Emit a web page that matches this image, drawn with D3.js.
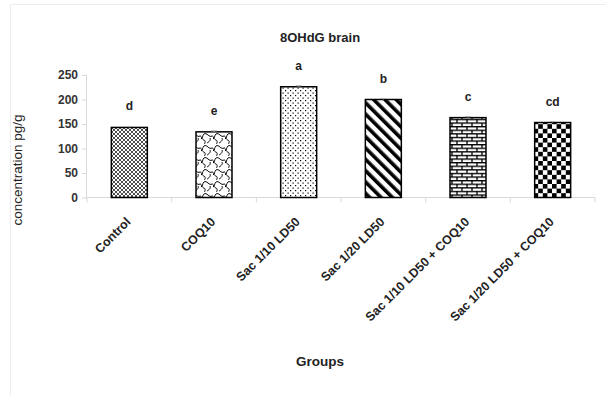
<!DOCTYPE html>
<html><head><meta charset="utf-8">
<script src="https://cdn.jsdelivr.net/npm/d3@7"></script>
<style>body{margin:0;background:#fff;}svg{display:block;}</style>
</head><body>
<svg id="c" width="606" height="395"></svg>
<script>
const categories = ["Control","COQ10","Sac 1/10 LD50","Sac 1/20 LD50","Sac 1/10 LD50 + COQ10","Sac 1/20 LD50 + COQ10"];
const values = [143, 134, 226, 200, 163, 153];
const errors = [2, 2, 2, 2, 2, 2];
const letters = ["d","e","a","b","c","cd"];
const yTicks = [0,50,100,150,200,250];
const patterns = ["lattice","shingle","dots","stripes","brick","checker"];

const svg = d3.select("#c");
const font = "'Liberation Sans', Arial, sans-serif";
const m = {l:87, r:595, t:75, b:197.5};

// border
svg.append("path").attr("d","M10.5,395 V4.5 H606").attr("fill","none").attr("stroke","#ececec").attr("stroke-width",1);

const defs = svg.append("defs");
// lattice
let p = defs.append("pattern").attr("id","lattice").attr("patternUnits","userSpaceOnUse").attr("width",4).attr("height",4);
p.append("rect").attr("width",4).attr("height",4).attr("fill","#fff");
p.append("path").attr("d","M0,0 L4,4 M4,0 L0,4").attr("stroke","#000").attr("stroke-width",0.7);
// shingle
p = defs.append("pattern").attr("id","shingle").attr("patternUnits","userSpaceOnUse").attr("width",12).attr("height",12);
p.append("rect").attr("width",12).attr("height",12).attr("fill","#fff");
p.append("path").attr("d","M0,2 C3,0 5,6 8,4 C9,3 10,8 12,8 M6,6 C7,8 5,10 3,11 M12,2 C10,4 11,6 9,7 M0,8 C2,9 1,12 0,12").attr("fill","none").attr("stroke","#000").attr("stroke-width",1);
// dots
p = defs.append("pattern").attr("id","dots").attr("patternUnits","userSpaceOnUse").attr("width",5).attr("height",5);
p.append("rect").attr("width",5).attr("height",5).attr("fill","#fff");
p.append("rect").attr("x",0).attr("y",0).attr("width",1.2).attr("height",1.2).attr("fill","#000");
p.append("rect").attr("x",2.5).attr("y",2.5).attr("width",1.2).attr("height",1.2).attr("fill","#000");
// stripes
p = defs.append("pattern").attr("id","stripes").attr("patternUnits","userSpaceOnUse").attr("width",8).attr("height",8).attr("patternTransform","rotate(-45)");
p.append("rect").attr("width",8).attr("height",8).attr("fill","#fff");
p.append("rect").attr("x",0).attr("y",0).attr("width",3.6).attr("height",8).attr("fill","#000");
// brick
p = defs.append("pattern").attr("id","brick").attr("patternUnits","userSpaceOnUse").attr("width",10).attr("height",7.2);
p.append("rect").attr("width",10).attr("height",7.2).attr("fill","#fff");
p.append("path").attr("d","M0,0.6 H10 M0,4.2 H10 M2,0.6 V4.2 M7,4.2 V7.8").attr("stroke","#000").attr("stroke-width",1.3);
// checker
p = defs.append("pattern").attr("id","checker").attr("patternUnits","userSpaceOnUse").attr("width",9.2).attr("height",9.2);
p.append("rect").attr("width",9.2).attr("height",9.2).attr("fill","#fff");
p.append("rect").attr("x",0).attr("y",0).attr("width",4.6).attr("height",4.6).attr("fill","#000");
p.append("rect").attr("x",4.6).attr("y",4.6).attr("width",4.6).attr("height",4.6).attr("fill","#000");

const x = d3.scaleBand().domain(categories).range([m.l, m.r]).paddingInner(0.575).paddingOuter(0.2875);
const y = d3.scaleLinear().domain([0,250]).range([m.b, m.t]);

// y axis
const ya = svg.append("g").attr("transform",`translate(${m.l},0)`)
  .call(d3.axisLeft(y).tickValues(yTicks).tickSize(5).tickPadding(4));
ya.selectAll("path,line").attr("stroke","#d9d9d9");
ya.select(".domain").attr("d",`M-0.5,${m.b}V${m.t}`);
ya.selectAll("text").attr("font-family",font).attr("font-size",12).attr("font-weight","bold").attr("fill","#333");

// x axis line + ticks between categories
const step = x.step();
svg.append("line").attr("x1",m.l).attr("x2",m.r).attr("y1",m.b).attr("y2",m.b).attr("stroke","#d9d9d9");
d3.range(categories.length+1).forEach(i=>{
  const xx = m.l + i*step;
  svg.append("line").attr("x1",xx).attr("x2",xx).attr("y1",m.b).attr("y2",m.b+5).attr("stroke","#d9d9d9");
});

// bars
svg.selectAll("rect.bar").data(categories).join("rect").attr("class","bar")
  .attr("x",d=>x(d)).attr("width",x.bandwidth())
  .attr("y",(d,i)=>y(values[i])).attr("height",(d,i)=>y(0)-y(values[i]))
  .attr("fill",(d,i)=>`url(#${patterns[i]})`).attr("stroke","#000").attr("stroke-width",1.5);

// error bars
categories.forEach((d,i)=>{
  const cx = x(d)+x.bandwidth()/2;
  const y1 = y(values[i]+errors[i]);
  svg.append("path").attr("d",`M${cx},${y(values[i])}V${y1}M${cx-3},${y1}H${cx+3}`).attr("stroke","#aaa").attr("fill","none");
  svg.append("text").attr("x",cx).attr("y",y(values[i])-17).attr("text-anchor","middle")
    .attr("font-family",font).attr("font-size",12).attr("font-weight","bold").attr("fill","#222").text(letters[i]);
});

// x labels
categories.forEach(d=>{
  const cx = x(d)+x.bandwidth()/2;
  svg.append("text").attr("transform",`translate(${cx-1},${m.b+22}) rotate(-45)`)
    .attr("text-anchor","end").attr("dy","0.35em")
    .attr("font-family",font).attr("font-size",12.5).attr("font-weight","bold").attr("fill","#222").text(d);
});

// titles
svg.append("text").attr("x",320).attr("y",42).attr("text-anchor","middle").attr("font-family",font)
  .attr("font-size",13).attr("font-weight","bold").attr("fill","#222").text("8OHdG brain");
svg.append("text").attr("x",320).attr("y",366).attr("text-anchor","middle").attr("font-family",font)
  .attr("font-size",13.5).attr("font-weight","bold").attr("fill","#222").text("Groups");
svg.append("text").attr("transform","translate(22,170) rotate(-90)").attr("text-anchor","middle").attr("font-family",font)
  .attr("font-size",13.5).attr("fill","#222").text("concentration pg/g");
</script>
</body></html>
